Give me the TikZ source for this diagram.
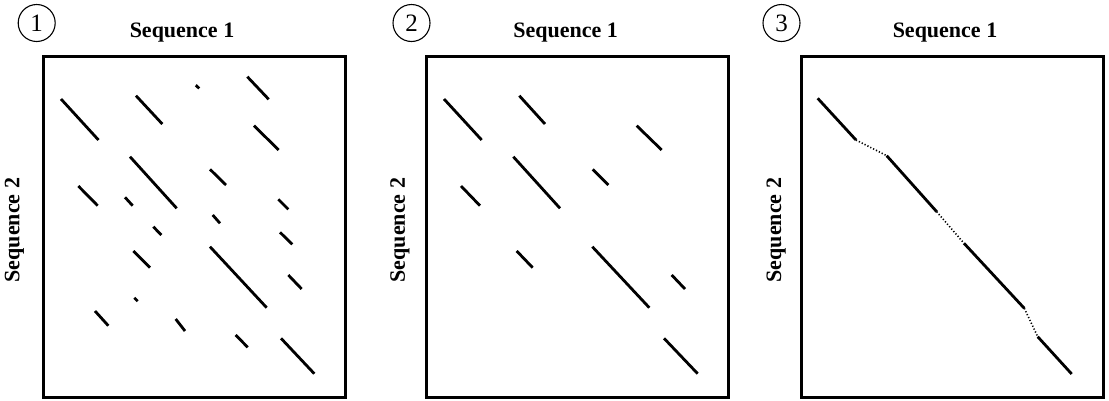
\documentclass[tikz,border=0pt]{standalone}
\usepackage{fontspec}
\setmainfont{Liberation Serif}
\tikzset{
  frame/.style={draw=black, line width=3pt},
  seg/.style={draw=black, line width=2.8pt},
  gap/.style={draw=black, line width=1.6pt, dash pattern=on 1.2pt off 2pt},
  title/.style={font=\fontsize{22}{26}\selectfont\bfseries, anchor=base, inner sep=0pt},
  ylabel/.style={font=\fontsize{22}{26}\selectfont\bfseries, rotate=90, anchor=center, inner sep=0pt},
  num/.style={draw=black, circle, line width=1.1pt, minimum size=37pt, inner sep=0pt, font=\fontsize{25}{28}\selectfont}
}
\begin{document}
\begin{tikzpicture}[x=1pt, y=-1pt]
\useasboundingbox (0,0) rectangle (1109,400);

% ---------- Panel 1 ----------
\node[num] (n1) at (36.7,23) {1};
\node[title] (t1) at (182,37.7) {Sequence 1};
\node[ylabel] (y1) at (14.5,230) {Sequence 2};
\draw[frame] (43,56) rectangle (345,397);
\foreach \a/\b/\c/\d in {
 61/99/98.5/140,
 136/95.7/162.3/124,
 195.8/85.2/199.2/88.4,
 247.3/76.7/268.7/99.3,
 254/125.7/278.7/150,
 130/156.7/176.7/208.3,
 210/169.3/226/185,
 78.3/186/97.7/205.7,
 125/197.3/132.7/205.7,
 278.3/199.3/288.3/209.3,
 212.7/215/220/223.3,
 153.3/226.7/161.3/235,
 280/232.3/292.3/244.3,
 133.3/251/150/267.7,
 210/246.7/266.7/307.7,
 288.3/275/301.7/289,
 134.3/297.8/137.7/301.2,
 95/311/108.3/325.7,
 175.7/319/185/331,
 235.7/335/247.7/347.3,
 281/338.3/314.3/373.7}
 {\draw[seg] (\a,\b) -- (\c,\d);}

% ---------- Panel 2 ----------
\node[num] (n2) at (411.5,23) {2};
\node[title] (t2) at (565.6,37.7) {Sequence 1};
\node[ylabel] (y2) at (400,230) {Sequence 2};
\draw[frame] (426.5,56) rectangle (728.5,397);
\foreach \a/\b/\c/\d in {
 444/99/481.7/140,
 519.3/95.7/545/124,
 636.7/125.7/661.7/150,
 513.3/156.7/560/208.3,
 592.7/169.3/608.3/185,
 461/186/480/205.7,
 516.7/251/532.7/267.7,
 592.3/246.7/649.3/307.7,
 671.7/275/685/289,
 664/338.3/697.7/373.7}
 {\draw[seg] (\a,\b) -- (\c,\d);}

% ---------- Panel 3 ----------
\node[num] (n3) at (781.5,23) {3};
\node[title] (t3) at (945,37.7) {Sequence 1};
\node[ylabel] (y3) at (776.3,230) {Sequence 2};
\draw[frame] (801,56) rectangle (1103,397);
\coordinate (p1) at (817.7,98.3);
\coordinate (p2) at (856,140);
\coordinate (p3) at (886.7,155.7);
\coordinate (p4) at (936.7,211.7);
\coordinate (p5) at (964,243.3);
\coordinate (p6) at (1024.3,308.3);
\coordinate (p7) at (1037.7,336.7);
\coordinate (p8) at (1071.7,374);
\draw[seg] (p1) -- (p2);
\draw[gap] (p2) -- (p3);
\draw[seg] (p3) -- (p4);
\draw[gap] (p4) -- (p5);
\draw[seg] (p5) -- (p6);
\draw[gap] (p6) -- (p7);
\draw[seg] (p7) -- (p8);
\end{tikzpicture}
\end{document}
